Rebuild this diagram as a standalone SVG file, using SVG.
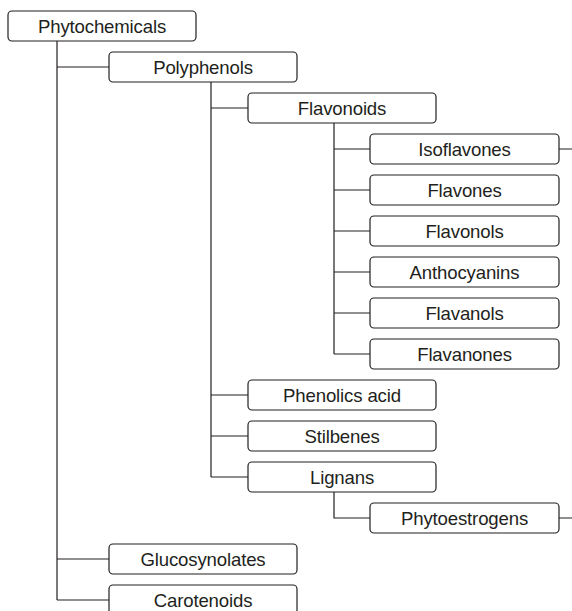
<svg xmlns="http://www.w3.org/2000/svg" width="572" height="611" viewBox="0 0 572 611">
<style>
.b{fill:#fff;stroke:#231f20;stroke-width:1.2}
.t{font-family:"Liberation Sans",Arial,sans-serif;font-size:18.6px;fill:#231f20;text-anchor:middle;letter-spacing:-0.15px}
.c{fill:none;stroke:#231f20;stroke-width:1.2}
</style>
<rect width="572" height="611" fill="#fff"/>
<g id="connectors">
<path class="c" d="M57 41V600M57 67H109M57 559H109M57 600H109"/>
<path class="c" d="M211 82V477M211 108H248M211 395H248M211 436H248M211 477H248"/>
<path class="c" d="M334 123V354M334 149H370M334 190H370M334 231H370M334 272H370M334 313H370M334 354H370"/>
<path class="c" d="M334 492V518H370"/>
<path class="c" d="M559 149H572M559 518H572"/>
</g>
<g id="phytochemicals"><rect class="b" x="8" y="11" width="188" height="30" rx="4"/><text class="t" x="102" y="32.5">Phytochemicals</text></g>
<g id="polyphenols"><rect class="b" x="109" y="52" width="188" height="30" rx="4"/><text class="t" x="203" y="73.5">Polyphenols</text></g>
<g id="flavonoids"><rect class="b" x="248" y="93" width="188" height="30" rx="4"/><text class="t" x="342" y="114.5">Flavonoids</text></g>
<g id="isoflavones"><rect class="b" x="370" y="134" width="189" height="30" rx="4"/><text class="t" x="464.5" y="155.5">Isoflavones</text></g>
<g id="flavones"><rect class="b" x="370" y="175" width="189" height="30" rx="4"/><text class="t" x="464.5" y="196.5">Flavones</text></g>
<g id="flavonols"><rect class="b" x="370" y="216" width="189" height="30" rx="4"/><text class="t" x="464.5" y="237.5">Flavonols</text></g>
<g id="anthocyanins"><rect class="b" x="370" y="257" width="189" height="30" rx="4"/><text class="t" x="464.5" y="278.5">Anthocyanins</text></g>
<g id="flavanols"><rect class="b" x="370" y="298" width="189" height="30" rx="4"/><text class="t" x="464.5" y="319.5">Flavanols</text></g>
<g id="flavanones"><rect class="b" x="370" y="339" width="189" height="30" rx="4"/><text class="t" x="464.5" y="360.5">Flavanones</text></g>
<g id="phenolics"><rect class="b" x="248" y="380" width="188" height="30" rx="4"/><text class="t" x="342" y="401.5">Phenolics acid</text></g>
<g id="stilbenes"><rect class="b" x="248" y="421" width="188" height="30" rx="4"/><text class="t" x="342" y="442.5">Stilbenes</text></g>
<g id="lignans"><rect class="b" x="248" y="462" width="188" height="30" rx="4"/><text class="t" x="342" y="483.5">Lignans</text></g>
<g id="phytoestrogens"><rect class="b" x="370" y="503" width="189" height="30" rx="4"/><text class="t" x="464.5" y="524.5">Phytoestrogens</text></g>
<g id="glucosynolates"><rect class="b" x="109" y="544" width="188" height="30" rx="4"/><text class="t" x="203" y="565.5">Glucosynolates</text></g>
<g id="carotenoids"><rect class="b" x="109" y="585" width="188" height="30" rx="4"/><text class="t" x="203" y="606.5">Carotenoids</text></g>
</svg>
